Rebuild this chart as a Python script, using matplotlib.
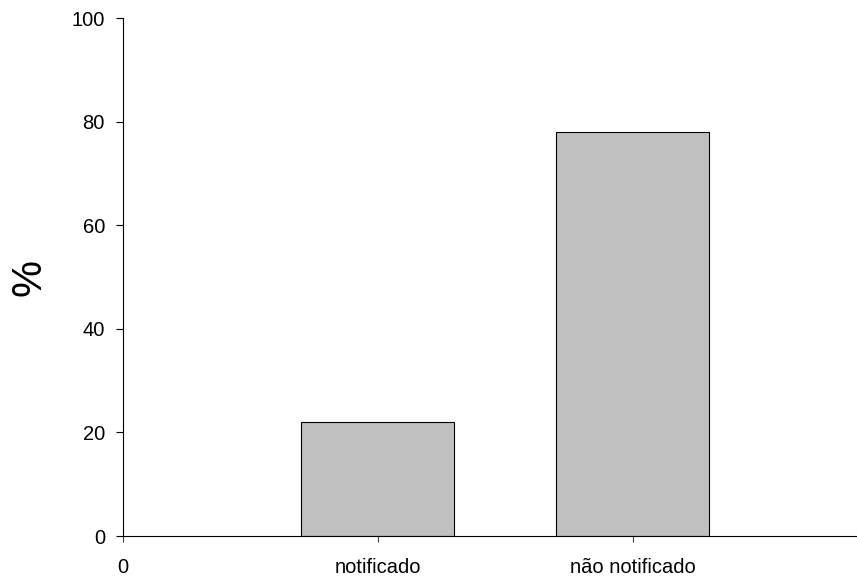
import matplotlib
matplotlib.use("Agg")
import matplotlib.pyplot as plt

# dados
categorias = ["notificado", "não notificado"]
percentuais = [22, 78]
posicoes = [1, 2]

plt.rcParams['font.family'] = ['Liberation Sans', 'DejaVu Sans']

fig = plt.figure(figsize=(8.57, 5.79), dpi=100)
ax = fig.add_axes([123 / 857, 1 - 536 / 579, 1 - 123 / 857, (536 - 18) / 579])

ax.bar(posicoes, percentuais, width=0.6, color="#c0c0c0", edgecolor="black", linewidth=0.8)

ax.set_xlim(0, 2.88)
ax.set_ylim(0, 100)
ax.set_xticks([0] + posicoes)
ax.set_xticklabels(["0"] + categorias, fontsize=14.5)
ax.set_yticks([0, 20, 40, 60, 80, 100])
ax.tick_params(axis="y", labelsize=14.5, length=5, width=0.8, direction="out", pad=8)
ax.tick_params(axis="x", length=4.5, width=0.8, direction="out", pad=11, color="#444444")

for s in ["top", "right"]:
    ax.spines[s].set_visible(False)
ax.spines["left"].set_linewidth(0.8)
ax.spines["bottom"].set_linewidth(0.8)

ax.set_ylabel("%", fontsize=30)
ax.yaxis.set_label_coords(-0.10, 0.5)

fig.savefig("out.png", dpi=100)
